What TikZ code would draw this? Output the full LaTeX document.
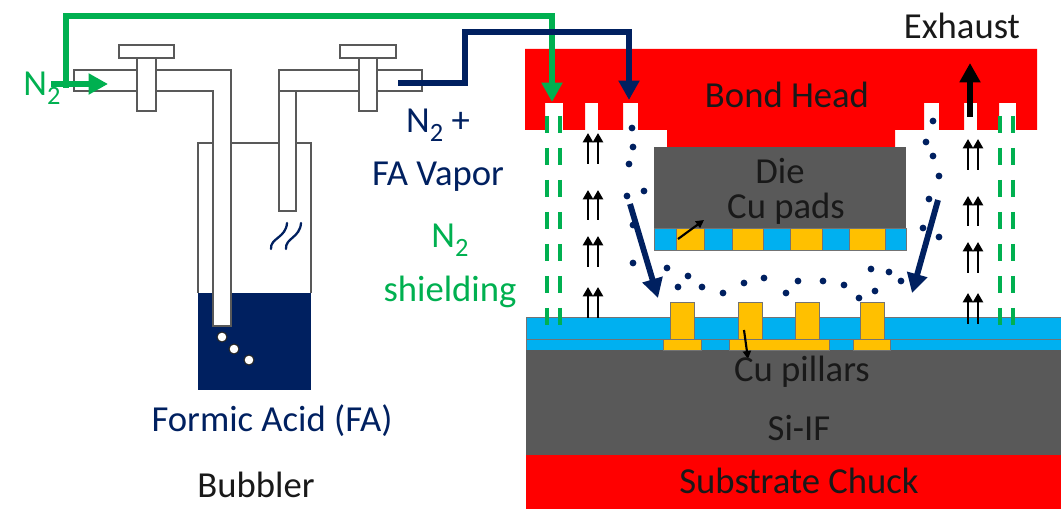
\documentclass[tikz,border=0pt]{standalone}
\usepackage{fontspec}
\setmainfont{Carlito}
\usetikzlibrary{arrows.meta}
\definecolor{hred}{HTML}{FF0000}
\definecolor{fablue}{HTML}{002060}
\definecolor{ngreen}{HTML}{00B050}
\definecolor{lcyan}{HTML}{00B0F0}
\definecolor{cugold}{HTML}{FFC000}
\definecolor{dgray}{HTML}{595959}
\definecolor{tubeline}{HTML}{595959}
\newcommand{\subtwo}{\raisebox{-.24em}{\scalebox{.72}{2}}}
\tikzset{
  x=.75pt,y=-.75pt,
  tube/.style={draw=tubeline,line width=.9pt,fill=white},
  thinbox/.style={draw=black!55,line width=.35pt},
  lbl/.style={inner sep=0pt,font=\fontsize{27.5pt}{33pt}\selectfont,align=center},
  blk/.style={lbl,text=black!90},
  grn/.style={lbl,text=ngreen},
  blu/.style={lbl,text=fablue},
  greenflow/.style={draw=ngreen,line width=4.4pt,-{Triangle[length=14.5pt,width=15pt]}},
  blueflow/.style={draw=fablue,line width=4.4pt,-{Triangle[length=14.5pt,width=15pt]}},
  gasup/.style={draw=black,line width=2.1pt,-{Triangle[length=7pt,width=7.5pt]}},
  shield/.style={draw=ngreen,line width=2.9pt,dash pattern=on 12.8pt off 11.2pt},
  fadot/.style={fill=fablue},
  bubble/.style={draw=black!85,line width=.8pt,fill=white},
}
\begin{document}
\begin{tikzpicture}
\useasboundingbox (0,0) rectangle (1061,509);
% ---- bubbler
\fill[fablue] (198,293) rectangle (311,390);
\draw[draw=tubeline,line width=.9pt] (198,293) -- (198,143) -- (311,143) -- (311,293);
\draw[tube] (213,91) -- (74,91) -- (74,70) -- (231,70) -- (231,326) -- (213,326) -- cycle;
\draw[tube] (422,91) -- (296,91) -- (296,211) -- (279,211) -- (279,70) -- (422,70) -- cycle;
\draw[tubeline,line width=.9pt] (279,91) -- (296,91);
\draw[tube] (137,58) rectangle (156,111);
\draw[tube] (119,45) rectangle (174,58);
\draw[tube] (359,58) rectangle (377,111);
\draw[tube] (340,45) rectangle (396,58);
\filldraw[bubble] (222,337) circle (5);
\filldraw[bubble] (234,349) circle (5);
\filldraw[bubble] (249,360) circle (5);
\draw[fablue,line width=1.7pt,line cap=round] (271,249) .. controls (270,238) and (286,238) .. (287,223);
\draw[fablue,line width=1.7pt,line cap=round] (286,249) .. controls (285,238) and (300,238) .. (301,223);
% ---- bond head
\fill[hred] (525,49) -- (1037,49) -- (1037,130) -- (1016,130) -- (1016,103) -- (999,103) -- (999,130)
  -- (977,130) -- (977,103) -- (964,103) -- (964,130) -- (939,130) -- (939,103) -- (924,103) -- (924,130)
  -- (895,130) -- (895,147) -- (667,147) -- (667,130) -- (638,130) -- (638,103) -- (623,103) -- (623,130)
  -- (598,130) -- (598,103) -- (585,103) -- (585,130) -- (563,130) -- (563,103) -- (545,103) -- (545,130)
  -- (525,130) -- cycle;
% ---- die
\fill[dgray] (654,147) rectangle (906,228);
\filldraw[fill=lcyan,thinbox] (654,228) rectangle (906,250);
\foreach \a/\b in {676/704,732/763,790/822,849/885}
  \filldraw[fill=cugold,thinbox] (\a,228) rectangle (\b,250);
% ---- substrate
\filldraw[fill=lcyan,thinbox] (526,317) rectangle (1061,339);
\filldraw[fill=lcyan,thinbox] (526,339) rectangle (1061,350);
\fill[dgray] (526,350) rectangle (1061,455);
\fill[hred] (526,455) rectangle (1061,509);
\foreach \a/\b in {663/701,729/829,853/890}
  \filldraw[fill=cugold,thinbox] (\a,339) rectangle (\b,350);
\foreach \a/\b in {670/694,738/762,795/819,860/884}
  \filldraw[fill=cugold,thinbox] (\a,302) rectangle (\b,339);
% ---- N2 shielding
\foreach \x in {547,560,1000,1013} {
  \coordinate (sa\x) at (\x,116); \coordinate (sb\x) at (\x,326);
  \draw[shield] (sa\x) -- (sb\x);
}
% ---- FA vapour dots
\foreach \x/\y in {632/128,633/147,629/164,627/196,644/191,633/225,633/263,667/268,688/276,678/287,702/287,723/293,744/283,764/278,786/293,798/281,823/281,844/285,859/298,875/291,871/269,889/272,901/281,933/121,926/142,933/156,939/176,929/199,923/228,939/237}
  \fill[fadot] (\x,\y) circle (3.4);
% ---- exhaust small arrows
\foreach \x/\d in {588/0,598/0,968/0,978/0} {
  \foreach \t/\bt in {133/164,190/220,236/267,287/318} {
    \ifnum\x>700
      \pgfmathtruncatemacro{\tt}{\t+6}\pgfmathtruncatemacro{\bb}{\bt+6}
    \else
      \pgfmathtruncatemacro{\tt}{\t}\pgfmathtruncatemacro{\bb}{\bt}
    \fi
    \coordinate (ga) at (\x,\bb); \coordinate (gb) at (\x,\tt);
    \draw[gasup] (ga) -- (gb);
  }
}
% ---- flow lines
\coordinate (gstart) at (66,88); \coordinate (gc1) at (66,16); \coordinate (gc2) at (552,16); \coordinate (gend) at (552,102);
\draw[greenflow] (gstart) -- (gc1) -- (gc2) -- (gend);
\coordinate (gi) at (51,84); \coordinate (gj) at (108,84);
\draw[greenflow] (gi) -- (gj);
\coordinate (bstart) at (398,83); \coordinate (bc1) at (465,83); \coordinate (bc2) at (465,32); \coordinate (bc3) at (629,32); \coordinate (bend) at (629,100);
\draw[blueflow] (bstart) -- (bc1) -- (bc2) -- (bc3) -- (bend);
\coordinate (bl1) at (630,204); \coordinate (bl2) at (658,298);
\draw[blueflow] (bl1) -- (bl2);
\coordinate (br1) at (938,200); \coordinate (br2) at (912,293);
\draw[blueflow] (br1) -- (br2);
\coordinate (ex1) at (970,117); \coordinate (ex2) at (970,63);
\draw[draw=black,line width=4.4pt,-{Triangle[length=14.5pt,width=15pt]}] (ex1) -- (ex2);
\coordinate (pa1) at (678,239); \coordinate (pa2) at (704,220);
\draw[draw=black,line width=1.6pt,-{Triangle[length=6pt,width=6pt]}] (pa1) -- (pa2);
\coordinate (pb1) at (744,330); \coordinate (pb2) at (748,359);
\draw[draw=black,line width=1.6pt,-{Triangle[length=6pt,width=6pt]}] (pb1) -- (pb2);
% ---- labels
\node[grn] (n2in) at (42,88) {N\subtwo};
\node[blu] (n2fa) at (438,125) {N\subtwo{} +};
\node[blu] (favap) at (438,177) {FA Vapor};
\node[grn] (n2sh) at (450,240) {N\subtwo};
\node[grn] (shld) at (450,292) {shielding};
\node[blu] (fa) at (272,421) {Formic Acid (FA)};
\node[blk] (bubbler) at (256,485) {Bubbler};
\node[blk] (exh) at (962,26) {Exhaust};
\node[blk] (bond) at (787,95) {Bond Head};
\node[blk] (die) at (780,171) {Die};
\node[blk] (pads) at (786,209) {Cu pads};
\node[blk] (pill) at (802,372) {Cu pillars};
\node[blk] (siif) at (799,428) {Si-IF};
\node[blk] (chuck) at (799,481) {Substrate Chuck};
\end{tikzpicture}
\end{document}
